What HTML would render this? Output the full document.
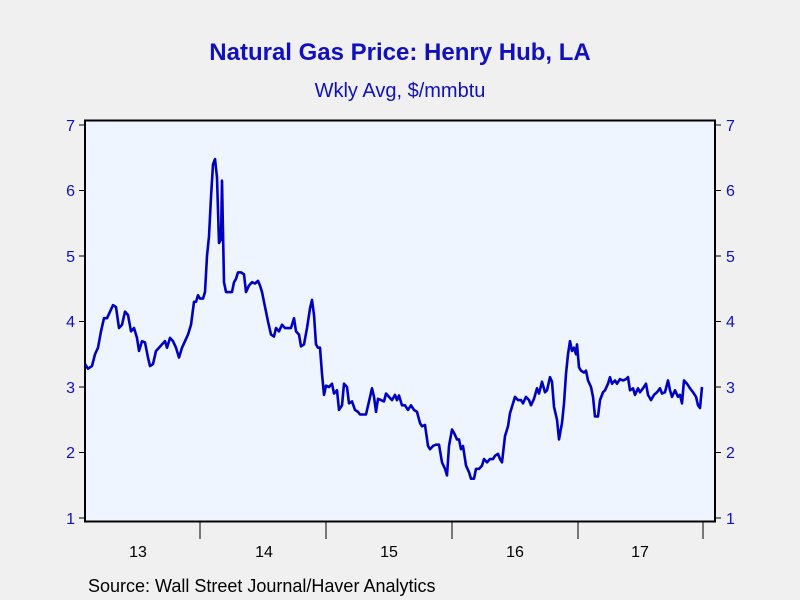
<!DOCTYPE html>
<html><head><meta charset="utf-8"><style>
html,body{margin:0;padding:0;background:#f0f0f0;}
svg{display:block;font-family:"Liberation Sans",Arial,sans-serif;}
</style></head><body>
<svg width="800" height="600" viewBox="0 0 800 600">
<rect width="800" height="600" fill="#f0f0f0"/>
<text x="400" y="60" text-anchor="middle" font-size="24" font-weight="bold" fill="#1010c0">Natural Gas Price: Henry Hub, LA</text>
<text x="400" y="97" text-anchor="middle" font-size="20" fill="#1010c0">Wkly Avg, $/mmbtu</text>
<rect x="85" y="120.5" width="630" height="401" fill="#eef5ff" stroke="#000" stroke-width="2"/>
<g stroke="#000" stroke-width="1">
<line x1="79" y1="125" x2="85" y2="125"/><line x1="79" y1="190.5" x2="85" y2="190.5"/><line x1="79" y1="256" x2="85" y2="256"/><line x1="79" y1="321.5" x2="85" y2="321.5"/><line x1="79" y1="387" x2="85" y2="387"/><line x1="79" y1="452.5" x2="85" y2="452.5"/><line x1="79" y1="518" x2="85" y2="518"/>
<line x1="715" y1="125" x2="721" y2="125"/><line x1="715" y1="190.5" x2="721" y2="190.5"/><line x1="715" y1="256" x2="721" y2="256"/><line x1="715" y1="321.5" x2="721" y2="321.5"/><line x1="715" y1="387" x2="721" y2="387"/><line x1="715" y1="452.5" x2="721" y2="452.5"/><line x1="715" y1="518" x2="721" y2="518"/>
<line x1="200" y1="522" x2="200" y2="539"/><line x1="326" y1="522" x2="326" y2="539"/><line x1="452" y1="522" x2="452" y2="539"/><line x1="578" y1="522" x2="578" y2="539"/><line x1="703" y1="522" x2="703" y2="539"/>
</g>
<g font-size="16" fill="#1010c0">
<g text-anchor="end"><text x="75" y="131">7</text><text x="75" y="196">6</text><text x="75" y="262">5</text><text x="75" y="327">4</text><text x="75" y="393">3</text><text x="75" y="458">2</text><text x="75" y="524">1</text></g>
<g text-anchor="start"><text x="726" y="131">7</text><text x="726" y="196">6</text><text x="726" y="262">5</text><text x="726" y="327">4</text><text x="726" y="393">3</text><text x="726" y="458">2</text><text x="726" y="524">1</text></g>
</g>
<g font-size="16" fill="#000" text-anchor="middle">
<text x="138" y="557">13</text><text x="264" y="557">14</text><text x="389" y="557">15</text><text x="515" y="557">16</text><text x="640" y="557">17</text>
</g>
<text x="88" y="592" font-size="18" fill="#000">Source:  Wall Street Journal/Haver Analytics</text>
<g transform="translate(0,125) scale(1,-65.5) translate(0,-7)">
<polyline fill="none" stroke="#0000c0" stroke-width="2.6" vector-effect="non-scaling-stroke" stroke-linejoin="round" points="85,3.35 88,3.28 92,3.32 95,3.5 98,3.6 101,3.85 104,4.05 107,4.05 110,4.15 113,4.25 116,4.22 119,3.9 122,3.95 125,4.15 128,4.1 131,3.85 134,3.9 137,3.75 139,3.55 142,3.7 145,3.68 148,3.45 150,3.32 153,3.35 156,3.55 159,3.6 162,3.65 165,3.7 167,3.6 170,3.75 173,3.7 176,3.6 179,3.45 182,3.6 185,3.7 188,3.8 191,3.95 194,4.3 196,4.3 198,4.4 200,4.35 203,4.35 205,4.45 207,5.0 209,5.3 211,5.9 213,6.4 215,6.48 217,6.2 219,5.2 221,5.25 222,6.15 224,4.6 226,4.45 229,4.45 232,4.45 234,4.6 236,4.65 238,4.75 241,4.75 244,4.72 246,4.45 249,4.55 252,4.6 255,4.58 258,4.62 260,4.55 262,4.45 264,4.3 266,4.15 268,4.0 271,3.8 274,3.77 276,3.9 279,3.85 282,3.95 285,3.9 288,3.9 291,3.9 294,4.05 296,3.85 299,3.8 301,3.62 304,3.65 307,3.9 310,4.2 312,4.33 314,4.1 316,3.65 318,3.6 320,3.6 322,3.2 324,2.88 326,3.02 329,3.0 332,3.05 334,2.9 337,2.95 339,2.65 342,2.72 344,3.05 347,3.0 349,2.75 352,2.78 355,2.65 358,2.62 360,2.58 363,2.58 366,2.58 369,2.78 372,2.98 374,2.85 376,2.62 378,2.82 381,2.8 384,2.78 386,2.9 389,2.85 392,2.8 395,2.88 397,2.8 399,2.87 402,2.72 405,2.72 408,2.65 411,2.72 414,2.65 417,2.62 420,2.45 422,2.4 425,2.42 428,2.1 430,2.05 433,2.1 436,2.12 439,2.12 442,1.85 445,1.75 447,1.65 449,2.1 452,2.35 454,2.3 457,2.2 459,2.2 461,2.05 463,2.1 466,1.8 469,1.7 471,1.6 474,1.6 476,1.75 479,1.75 482,1.8 484,1.9 487,1.85 490,1.9 493,1.9 495,1.95 498,1.98 500,1.9 502,1.85 505,2.25 508,2.4 510,2.6 513,2.75 515,2.85 518,2.8 521,2.8 523,2.75 526,2.85 529,2.8 531,2.72 534,2.82 537,2.98 539,2.9 542,3.08 545,2.92 547,2.95 550,3.15 552,3.08 554,2.7 557,2.5 559,2.2 562,2.45 564,2.75 566,3.2 568,3.5 570,3.7 572,3.55 574,3.6 576,3.5 577,3.65 579,3.3 581,3.25 584,3.22 586,3.25 588,3.1 591,3.0 593,2.85 595,2.55 598,2.55 600,2.8 603,2.92 605,2.95 608,3.05 610,3.15 612,3.05 615,3.1 617,3.05 620,3.12 623,3.1 626,3.12 628,3.15 630,2.95 633,2.98 635,2.88 638,2.98 640,2.92 643,2.98 646,3.05 648,2.88 651,2.8 654,2.88 657,2.92 660,2.98 662,2.9 665,2.92 668,3.1 670,2.95 672,2.85 675,2.95 678,2.85 680,2.88 682,2.75 684,3.1 687,3.05 690,2.98 693,2.92 696,2.85 698,2.72 700,2.68 702,3.0"/>
</g>
</svg>
</body></html>
